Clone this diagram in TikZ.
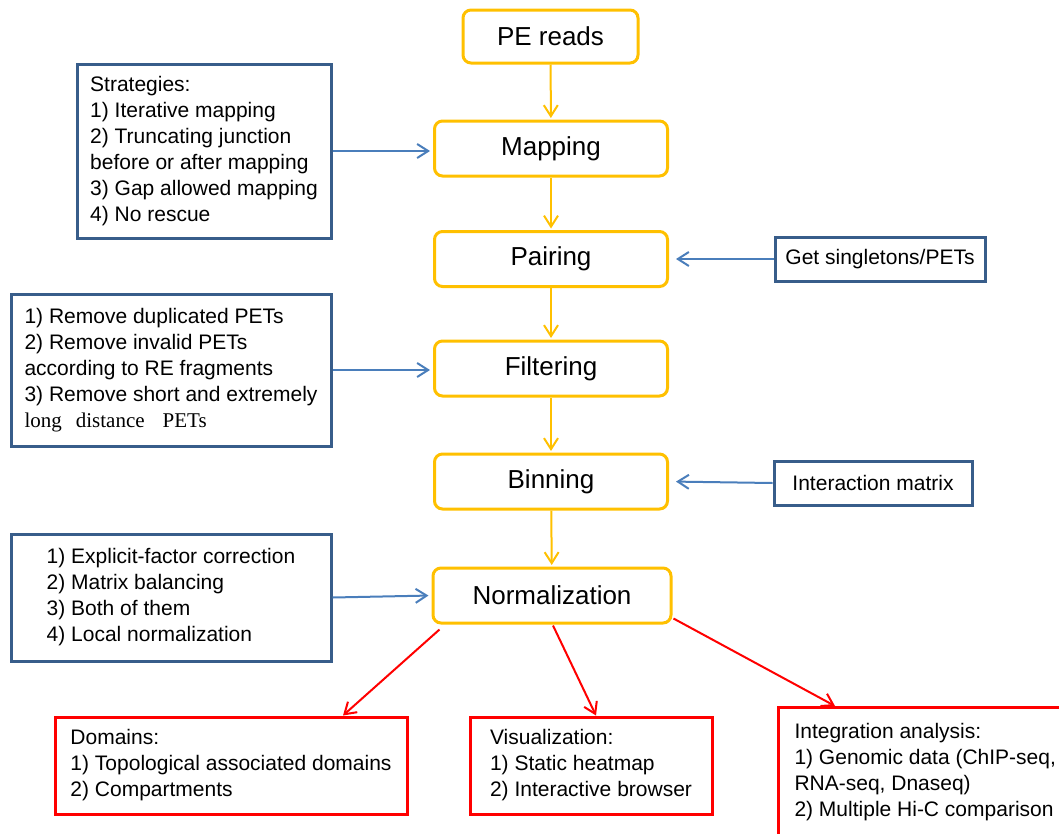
\documentclass[tikz,border=0pt]{standalone}
\usepackage{fontspec}
\setmainfont{Liberation Sans}
\newfontfamily\serifline{Liberation Serif}
\usetikzlibrary{arrows.meta,calc}
\definecolor{mainorange}{HTML}{FFC000}
\definecolor{boxblue}{HTML}{385D8A}
\definecolor{arrowblue}{HTML}{4A7EBB}
\definecolor{outred}{HTML}{FF0000}
\tikzset{
  mainbox/.style={draw=mainorange, line width=3pt, rounded corners=8pt, inner sep=0pt,
    font=\fontsize{26}{30}\selectfont, minimum height=55pt},
  sidebox/.style={draw=boxblue, line width=3pt, inner sep=0pt, align=left,
    font=\fontsize{21}{26}\selectfont},
  outbox/.style={draw=outred, line width=3pt, inner sep=0pt, align=left,
    font=\fontsize{21}{26}\selectfont},
  tip/.style={-{Straight Barb[length=11pt,width=14pt]}},
  flow/.style={tip, draw=mainorange, line width=2pt, shorten >=1.5pt},
  feed/.style={tip, draw=arrowblue, line width=2pt},
  result/.style={tip, draw=outred, line width=2pt}
}
\begin{document}
\begin{tikzpicture}[x=1pt,y=-1pt]
\useasboundingbox (0,0) rectangle (1059,833);
\clip (0,0) rectangle (1059,833);
% main chain
\node[mainbox, minimum width=175pt, minimum height=53pt] (pe) at (550.5,36.5) {PE reads};
\node[mainbox, minimum width=233pt] (map) at (551,148.5) {Mapping};
\node[mainbox, minimum width=233pt] (pair) at (551,259) {Pairing};
\node[mainbox, minimum width=233pt] (filt) at (551,368.5) {Filtering};
\node[mainbox, minimum width=233pt] (bin) at (551,481.5) {Binning};
\node[mainbox, minimum width=238pt] (norm) at (552,595.5) {Normalization};
% side boxes
\node[sidebox, minimum width=254pt, minimum height=174pt] (strat) at (204,151)
  {Strategies:\\1) Iterative mapping\\2) Truncating junction\\before or after mapping\\3) Gap allowed mapping\\4) No rescue};
\node[sidebox, minimum width=320pt, minimum height=152pt] (filtL) at (171,370)
  {1) Remove duplicated PETs\\2) Remove invalid PETs\\according to RE fragments\\3) Remove short and extremely\\{\serifline long\hspace{14pt}distance\hspace{18pt}PETs}};
\node[sidebox, minimum width=320pt, minimum height=127pt] (normL) at (171,597.5)
  {1) Explicit-factor correction\\2) Matrix balancing\\3) Both of them\\4) Local normalization};
\node[sidebox, minimum width=210pt, minimum height=44pt] (sing) at (880,259) {Get singletons/PETs};
\node[sidebox, minimum width=198pt, minimum height=44pt] (inter) at (873,483) {Interaction matrix};
% output boxes
\node[outbox, minimum width=352pt, minimum height=97pt] (dom) at (231,765.5)
  {Domains:\\1) Topological associated domains\\2) Compartments};
\node[outbox, minimum width=242pt, minimum height=97pt] (vis) at (591,765.5)
  {Visualization:\\1) Static heatmap\\2) Interactive browser};
\node[outbox, anchor=north west, inner xsep=16pt, inner ysep=16pt] (integ) at (777,706)
  {Integration analysis:\\1) Genomic data (ChIP-seq,\\RNA-seq, Dnaseq)\\2) Multiple Hi-C comparison};
% flow arrows
\draw[flow] (pe) -- (map);
\draw[flow] (map) -- (pair);
\draw[flow] (pair) -- (filt);
\draw[flow] (filt) -- (bin);
\draw[flow] (bin) -- (norm);
% feeding arrows
\draw[feed, shorten >=3pt] (strat.east) -- (strat.east -| map.west);
\draw[feed, shorten >=3pt] (filtL.east) -- (filtL.east -| filt.west);
\draw[feed, shorten >=3pt] (normL.east) -- (norm.west);
\draw[feed, shorten >=7pt] (sing.west) -- (pair.east);
\draw[feed, shorten >=7pt] (inter.west) -- (bin.east);
% result arrows
\draw[result] ($(norm.south west)+(8,5)$) -- ($(dom.north)+(112,0)$);
\draw[result] ($(norm.south)+(1,1)$) -- ($(vis.north)+(5,0)$);
\draw[result] ($(norm.south east)+(1,-6)$) -- ($(integ.north west)+(58,0)$);
\end{tikzpicture}
\end{document}
